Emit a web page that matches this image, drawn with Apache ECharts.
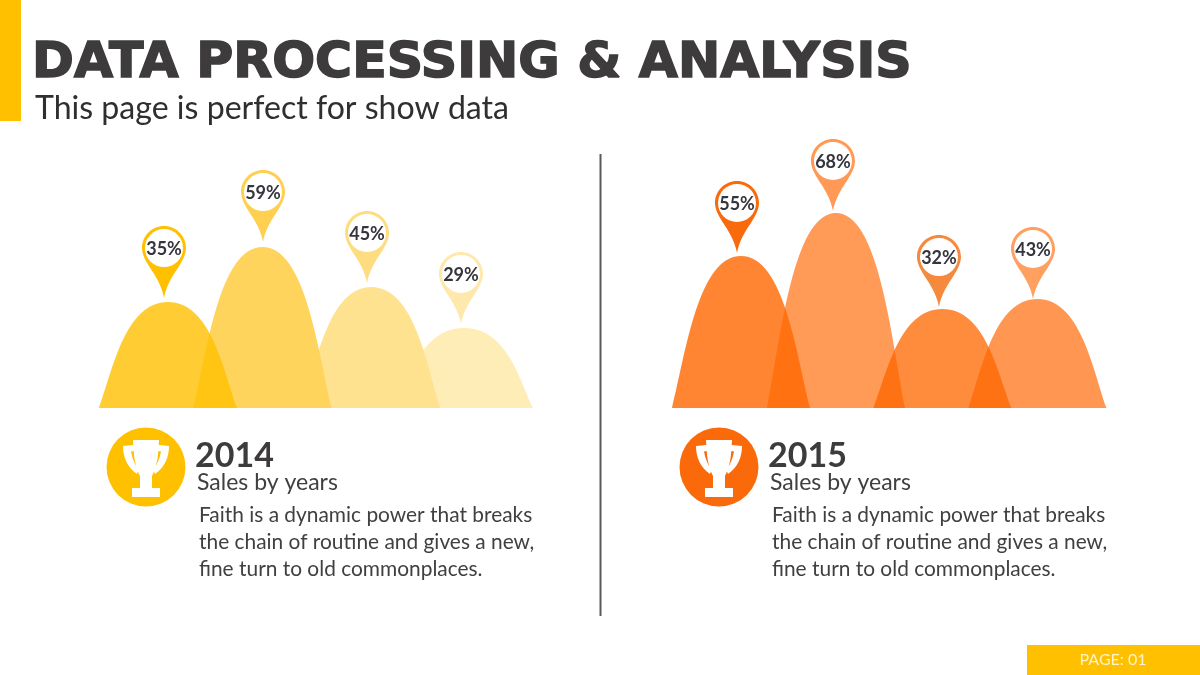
<!DOCTYPE html>
<html>
<head>
<meta charset="utf-8">
<style>html,body{margin:0;padding:0;background:#fff}#c{width:1200px;height:675px}</style>
<script src="https://cdn.jsdelivr.net/npm/echarts@6/dist/echarts.min.js"></script>
</head>
<body>
<div id="c"></div>
<script>
var titleText = 'DATA PROCESSING & ANALYSIS';
var subtitleText = 'This page is perfect for show data';
var years = ['2014', '2015'];
var captionText = 'Sales by years';
var bodyLines = ['Faith is a dynamic power that breaks', 'the chain of routine and gives a new,', 'fine turn to old commonplaces.'];
var pageText = 'PAGE: 01';

var labels2014 = ['35%', '59%', '45%', '29%'];
var labels2015 = ['55%', '68%', '32%', '43%'];
var slots2014 = [0, 0.995, 2.14, 3.116];
var slots2015 = [0, 1, 2.12, 3.12];
var heights2014 = [37.9, 57.5, 43.2, 28.6];
var heights2015 = [54.3, 69.6, 35.4, 38.9];
var pinSlots2014 = [-0.042, 1, 2.095, 3.084];
var pinSlots2015 = [-0.042, 0.968, 2.084, 3.074];
var pinLevels2014 = [57.1, 77.1, 62.5, 47.9];
var pinLevels2015 = [73.2, 88.2, 53.9, 56.8];

var bellFill = [
  ['rgba(255,192,0,0.80)', '#FFD45C', '#FFE28F', '#FFEDB8'],
  ['rgba(255,102,0,0.80)', 'rgba(255,102,0,0.66)', 'rgba(255,102,0,0.76)', 'rgba(255,102,0,0.68)']
];
var pinFill = [
  ['#FFC000', '#FFD050', '#FEDD80', '#FEE8AC'],
  ['#F96A0C', '#FF9955', '#F58A3D', '#FF9F60']
];
var badgeFill = ['#FFC000', '#FA6A0A'];

var BELL = 'M0 1 C0.20 0.64 0.38 0 1 0 C1.62 0 1.80 0.64 2 1 Z';
var PIN = 'M0 22 C0 9.85 9.85 0 22 0 C34.15 0 44 9.85 44 22 C44 29 40 35 36.5 41 C31 49 24 60 22 72 C20 60 13 49 7.5 41 C4 35 0 29 0 22 Z';
var TROPHY = 'M10 0 L36 0 L35.7 5 L46 6 C46 17 42 27 32 34 L30.5 30 C34 25 37 18 38 11.5 L35.3 11 C34.5 24 31 32 29 36 L29 48 L37 48 L37 57 L9 57 L9 48 L17 48 L17 36 C15 32 11.5 24 10.7 11 L8 11.5 C9 18 12 25 15.5 30 L14 34 C4 27 0 17 0 6 L10.3 5 Z';

var HALF = 0.727;

function bellItem(g) {
  return function (params, api) {
    var x = api.value(0), h = api.value(1);
    var a = api.coord([x - HALF, h]);
    var b = api.coord([x + HALF, 0]);
    return {
      type: 'path',
      z2: 10 - params.dataIndex,
      shape: { pathData: BELL, layout: 'cover', x: a[0], y: a[1], width: b[0] - a[0], height: b[1] - a[1] },
      style: { fill: bellFill[g][params.dataIndex] }
    };
  };
}
function pinItem(g, labels) {
  return function (params, api) {
    var p = api.coord([api.value(0), api.value(1)]);
    var cx = p[0], cy = p[1];
    return {
      type: 'group',
      children: [
        { type: 'path', shape: { pathData: PIN, layout: 'cover', x: cx - 22, y: cy - 22, width: 44, height: 72 },
          style: { fill: pinFill[g][params.dataIndex] } },
        { type: 'circle', shape: { cx: cx, cy: cy, r: 19 }, style: { fill: '#fff' } },
        { type: 'text', style: { text: labels[params.dataIndex], x: cx, y: cy + 1, align: 'center', verticalAlign: 'middle',
            font: 'bold 18px Lato, sans-serif', fill: '#35353D' } }
      ]
    };
  };
}
function badgeItem(params, api) {
  var dx = params.dataIndex * 573;
  return {
    type: 'group',
    children: [
      { type: 'circle', shape: { cx: 146 + dx, cy: 467, r: 39.5 }, style: { fill: badgeFill[params.dataIndex] } },
      { type: 'path', shape: { pathData: TROPHY, layout: 'cover', x: 123 + dx, y: 440, width: 46, height: 57 }, style: { fill: '#fff' } }
    ]
  };
}
function rows(xs, hs) { return xs.map(function (x, i) { return [x, hs[i]]; }); }

function panel(dx, i) {
  var els = [
    { type: 'text', style: { text: years[i], x: 195 + dx, y: 456, verticalAlign: 'middle', font: 'bold 34px Lato, sans-serif', fill: '#3D3B3B' } },
    { type: 'text', style: { text: captionText, x: 197 + dx, y: 483, verticalAlign: 'middle', font: '23px Lato, sans-serif', fill: '#404040' } }
  ];
  bodyLines.forEach(function (t, k) {
    els.push({ type: 'text', style: { text: t, x: 199 + dx, y: 515.5 + k * 27, verticalAlign: 'middle', font: '20.9px Lato, sans-serif', fill: '#404040' } });
  });
  return els;
}

var chart = echarts.init(document.getElementById('c'), null, { renderer: 'canvas' });
chart.setOption({
  animation: false,
  backgroundColor: '#fff',
  title: [
    { text: titleText, left: 32, top: 38, padding: 0,
      textStyle: { fontFamily: 'DejaVu Sans', fontWeight: 'bold', fontSize: 50.5, color: '#3D3B3B', textBorderColor: '#3D3B3B', textBorderWidth: 1.6 } },
    { text: subtitleText, left: 35, top: 93, padding: 0,
      textStyle: { fontFamily: 'Lato', fontWeight: 'normal', fontSize: 32.1, color: '#2F2F2F' } }
  ],
  grid: [
    { left: 73, width: 475, top: 128, height: 280 },
    { left: 646, width: 475, top: 128, height: 280 }
  ],
  xAxis: [
    { gridIndex: 0, type: 'value', min: -1, max: 4, show: false },
    { gridIndex: 1, type: 'value', min: -1, max: 4, show: false }
  ],
  yAxis: [
    { gridIndex: 0, type: 'value', min: 0, max: 100, show: false },
    { gridIndex: 1, type: 'value', min: 0, max: 100, show: false }
  ],
  series: [
    { type: 'custom', name: '2014', xAxisIndex: 0, yAxisIndex: 0, data: rows(slots2014, heights2014), renderItem: bellItem(0), clip: false, silent: true, z: 2 },
    { type: 'custom', name: '2015', xAxisIndex: 1, yAxisIndex: 1, data: rows(slots2015, heights2015), renderItem: bellItem(1), clip: false, silent: true, z: 2 },
    { type: 'custom', name: '2014 labels', xAxisIndex: 0, yAxisIndex: 0, data: rows(pinSlots2014, pinLevels2014), renderItem: pinItem(0, labels2014), clip: false, silent: true, z: 3 },
    { type: 'custom', name: '2015 labels', xAxisIndex: 1, yAxisIndex: 1, data: rows(pinSlots2015, pinLevels2015), renderItem: pinItem(1, labels2015), clip: false, silent: true, z: 3 },
    { type: 'custom', name: 'badges', coordinateSystem: 'none', data: years, renderItem: badgeItem, silent: true, z: 3 }
  ],
  graphic: [
    { type: 'rect', shape: { x: 0, y: 0, width: 21, height: 121 }, style: { fill: '#FFC000' } },
    { type: 'line', shape: { x1: 600.5, y1: 154, x2: 600.5, y2: 616 }, style: { stroke: '#595959', lineWidth: 2 } },
    { type: 'rect', shape: { x: 1027, y: 645, width: 173, height: 30 }, style: { fill: '#FFC000' } },
    { type: 'text', style: { text: pageText, x: 1113, y: 660, align: 'center', verticalAlign: 'middle', font: '16px Lato, sans-serif', fill: '#FFF3C8' } }
  ].concat(panel(0, 0), panel(573, 1))
});
</script>
</body>
</html>
